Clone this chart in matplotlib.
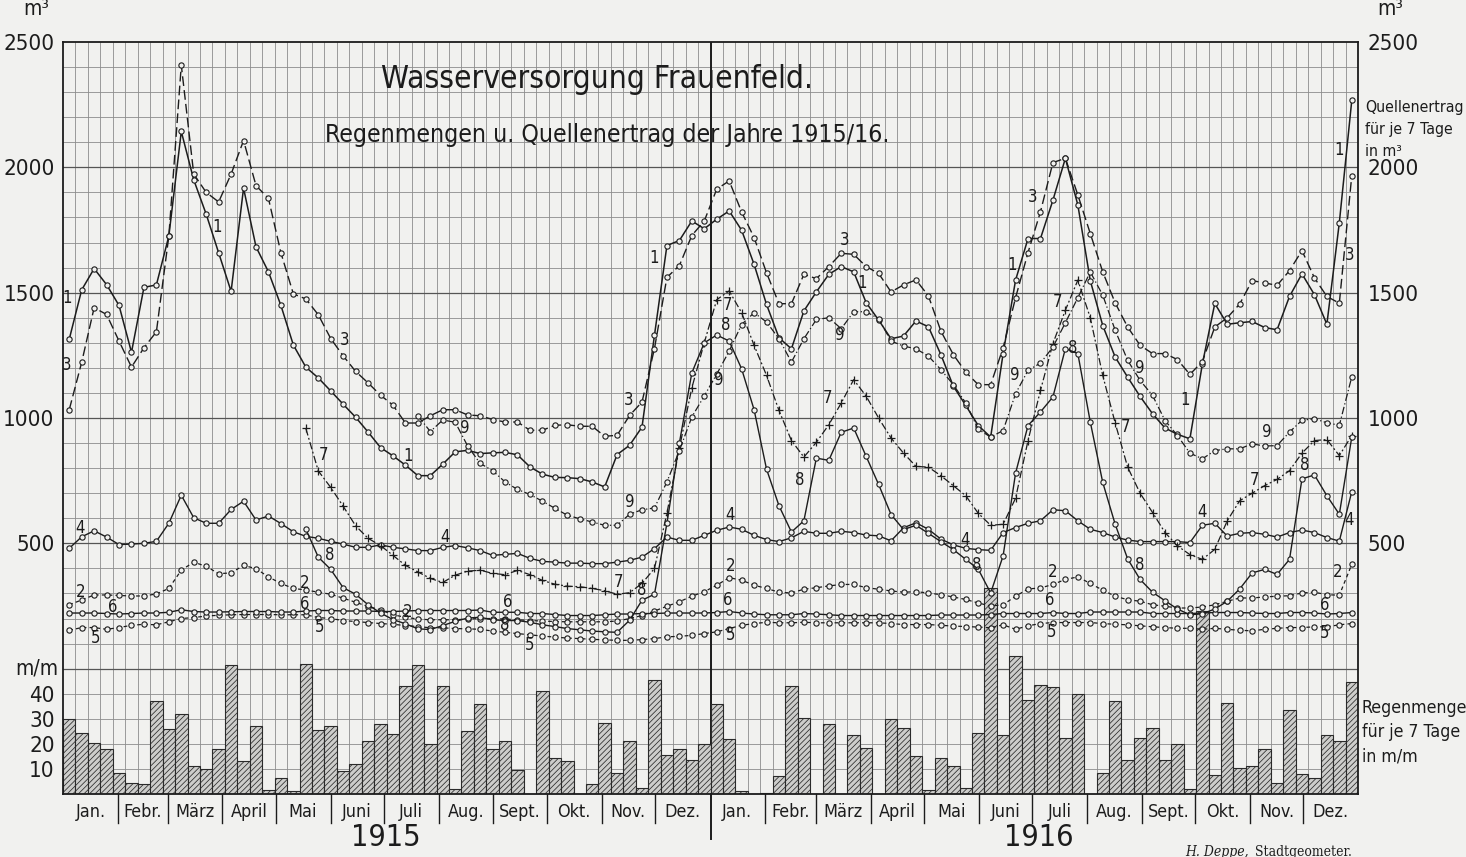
import numpy as np
import matplotlib.pyplot as plt
from matplotlib import font_manager
from matplotlib.transforms import blended_transform_factory

nan = np.nan

# --- data: weekly values 1915/16 (104 weeks) -------------------------------
# Quellenertrag in m3 per 7 days, one list per spring (numbered as in the chart)
q1 = [1314, 1511, 1596, 1532, 1449, 1262, 1521, 1531, 1726, 2143,
      1950, 1813, 1659, 1505, 1917, 1683, 1583, 1449, 1291, 1203,
      1160, 1108, 1055, 1003, 944, 882, 849, 812, 770, 770,
      816, 865, 871, 858, 861, 863, 853, 805, 776, 763,
      762, 758, 745, 725, 854, 891, 964, 1330, 1688, 1708,
      1786, 1755, 1793, 1826, 1749, 1613, 1453, 1320, 1276, 1427,
      1503, 1573, 1604, 1583, 1460, 1391, 1316, 1327, 1387, 1364,
      1253, 1127, 1050, 970, 924, 1257, 1550, 1716, 1716, 1869,
      2036, 1850, 1548, 1369, 1243, 1163, 1086, 1017, 960, 935,
      917, 1215, 1457, 1374, 1380, 1385, 1361, 1352, 1485, 1575,
      1492, 1374, 1779, 2267]
q2 = [255, 274, 294, 294, 292, 290, 290, 298, 320, 393,
      425, 408, 379, 382, 412, 399, 366, 340, 320, 314,
      305, 297, 281, 265, 248, 235, 215, 205, 198, 195,
      195, 195, 198, 200, 200, 198, 195, 192, 190, 188,
      187, 187, 187, 187, 190, 200, 212, 230, 249, 267,
      289, 307, 333, 363, 353, 333, 320, 305, 302, 317,
      323, 330, 336, 336, 323, 317, 310, 305, 307, 302,
      295, 286, 276, 262, 250, 255, 289, 318, 322, 336,
      356, 366, 340, 313, 289, 275, 269, 255, 249, 242,
      242, 246, 255, 269, 282, 282, 286, 289, 291, 302,
      305, 295, 293, 416]
q3 = [1033, 1222, 1440, 1413, 1307, 1203, 1280, 1344, 1726, 2408,
      1973, 1900, 1862, 1973, 2107, 1927, 1876, 1659, 1495, 1475,
      1412, 1317, 1248, 1186, 1140, 1091, 1051, 980, 980, 1009,
      1033, 1033, 1012, 1009, 994, 984, 984, 951, 951, 971,
      973, 967, 967, 927, 931, 1010, 1064, 1277, 1561, 1608,
      1728, 1786, 1913, 1946, 1822, 1720, 1579, 1456, 1456, 1573,
      1556, 1604, 1657, 1653, 1604, 1577, 1503, 1531, 1551, 1487,
      1347, 1253, 1183, 1133, 1133, 1280, 1480, 1660, 1823, 2019,
      2036, 1890, 1736, 1583, 1459, 1363, 1290, 1257, 1257, 1233,
      1174, 1225, 1363, 1400, 1455, 1548, 1539, 1529, 1588, 1668,
      1559, 1485, 1458, 1967]
q4 = [480, 526, 550, 525, 495, 497, 500, 508, 580, 692,
      602, 580, 580, 635, 668, 593, 609, 579, 546, 528,
      520, 508, 497, 484, 484, 494, 484, 478, 471, 471,
      484, 491, 482, 471, 452, 456, 460, 440, 428, 425,
      421, 421, 419, 419, 425, 432, 445, 479, 525, 512,
      512, 532, 552, 565, 556, 532, 515, 507, 522, 548,
      540, 540, 548, 543, 533, 530, 510, 562, 582, 556,
      517, 494, 480, 475, 472, 543, 563, 580, 590, 634,
      630, 590, 556, 543, 525, 513, 507, 507, 507, 507,
      503, 572, 580, 529, 540, 543, 536, 525, 543, 553,
      543, 523, 509, 706]
q5 = [153, 164, 164, 157, 164, 173, 177, 175, 187, 200,
      204, 210, 213, 215, 216, 216, 216, 215, 215, 215,
      204, 200, 192, 188, 184, 180, 177, 172, 168, 163,
      163, 160, 159, 157, 150, 145, 140, 135, 130, 126,
      122, 120, 117, 115, 113, 113, 116, 120, 127, 129,
      133, 140, 147, 160, 173, 180, 185, 183, 183, 185,
      183, 183, 183, 183, 183, 183, 180, 176, 176, 176,
      173, 170, 168, 166, 163, 175, 157, 171, 180, 184,
      184, 184, 184, 180, 177, 175, 171, 167, 164, 161,
      161, 157, 161, 157, 153, 151, 157, 161, 164, 164,
      167, 167, 175, 180]
q6 = [222, 222, 222, 220, 218, 220, 222, 222, 225, 235,
      228, 226, 226, 227, 228, 228, 228, 226, 226, 230,
      232, 232, 230, 230, 230, 228, 228, 230, 232, 232,
      232, 232, 232, 234, 225, 225, 225, 220, 220, 216,
      212, 212, 212, 215, 218, 218, 220, 220, 222, 222,
      222, 222, 224, 228, 222, 218, 215, 215, 215, 220,
      218, 215, 212, 212, 212, 212, 212, 212, 212, 212,
      214, 214, 214, 214, 216, 220, 220, 220, 220, 224,
      220, 220, 226, 226, 226, 226, 226, 220, 220, 220,
      220, 222, 224, 224, 224, 222, 220, 220, 224, 224,
      222, 218, 220, 224]
q7 = [nan] * 19 + [
      959, 789, 723, 648, 570, 520, 491, 452, 412, 386,
      360, 344, 373, 389, 393, 380, 375, 392, 375, 352,
      337, 329, 327, 320, 311, 297, 303, 340, 400, 620,
      880, 1120, 1300, 1472, 1507, 1420, 1290, 1170, 1030, 910,
      844, 903, 973, 1060, 1153, 1087, 1000, 920, 860, 807,
      804, 770, 730, 690, 620, 572, 576, 680, 910, 1110,
      1297, 1430, 1550, 1400, 1170, 980, 804, 700, 623, 543,
      490, 455, 436, 476, 590, 670, 700, 730, 755, 790,
      860, 910, 914, 850, 930]
q8 = [nan] * 19 + [
      557, 445, 396, 323, 297, 255, 222, 196, 179, 159,
      156, 172, 189, 202, 205, 195, 192, 192, 185, 175,
      168, 160, 155, 150, 147, 145, 193, 273, 297, 580,
      900, 1180, 1300, 1331, 1307, 1196, 1033, 796, 650, 545,
      590, 840, 831, 943, 960, 847, 735, 615, 555, 572,
      540, 507, 475, 436, 397, 302, 450, 780, 970, 1024,
      1084, 1277, 1257, 984, 743, 576, 438, 356, 305, 271,
      238, 215, 219, 238, 269, 318, 382, 396, 376, 436,
      757, 773, 690, 616, 924]
q9 = [nan] * 28 + [
      1009, 946, 992, 983, 888, 819, 790, 745, 715, 695,
      668, 640, 612, 598, 585, 572, 572, 616, 634, 641,
      745, 870, 1004, 1088, 1175, 1267, 1373, 1420, 1383, 1316,
      1223, 1316, 1393, 1400, 1356, 1424, 1424, 1396, 1307, 1287,
      1276, 1247, 1193, 1133, 1060, 955, 924, 950, 1097, 1190,
      1219, 1283, 1380, 1480, 1583, 1490, 1350, 1230, 1150, 1090,
      990, 930, 860, 837, 870, 877, 877, 897, 888, 890,
      944, 991, 997, 981, 971, 1164]

# Regenmenge in mm per 7 days
rain = [30, 24.5, 20.5, 18, 8.5, 4.5, 4, 37, 26, 32,
        11, 10, 18, 51.5, 13, 27, 1.5, 6.5, 1, 52,
        25.5, 27, 9, 12, 21, 28, 24, 43, 51.5, 20,
        43, 2, 25, 36, 18, 21, 9.5, 0, 41, 14.5,
        13, 0, 4, 28.5, 8.5, 21, 2.5, 45.5, 15.5, 18,
        13.5, 20, 36, 22, 1, 0, 0.3, 7, 43, 30.5,
        0, 28, 0, 23.5, 18.5, 0, 30, 26.5, 15, 1.5,
        14.5, 11, 2.5, 24.5, 82, 23.5, 55, 37.5, 43.5, 42.5,
        22.5, 40, 0, 8.5, 37, 13.5, 22.5, 26.5, 13.5, 20,
        2, 73, 7.5, 36.5, 10.5, 11, 18, 4.5, 33.5, 8,
        6.5, 23.5, 21, 44.5]

months = ["Jan.", "Febr.", "März", "April", "Mai", "Juni",
          "Juli", "Aug.", "Sept.", "Okt.", "Nov.", "Dez."]
month_start_days = [0, 31, 59, 90, 120, 151, 181, 212, 243, 273, 304, 334,
                    365, 396, 425, 456, 486, 517, 547, 578, 609, 639, 670, 700, 731]
years = ["1915", "1916"]

series = {"1": q1, "2": q2, "3": q3, "4": q4, "5": q5,
          "6": q6, "7": q7, "8": q8, "9": q9}

# --- styling ----------------------------------------------------------------
PAPER = "#f1f1ef"
INK = "#1c1c1c"
GRID = "#8c8c8c"

# the original lettering is narrow; take the narrowest face that is installed
_fonts = font_manager.fontManager.ttflist
if any(f.name == "Liberation Sans Narrow" for f in _fonts):
    base_family, base_stretch, wide = "Liberation Sans Narrow", "normal", 1.0
elif any(f.name == "DejaVu Sans" and "condensed" in str(f.stretch) for f in _fonts):
    base_family, base_stretch, wide = "DejaVu Sans", "condensed", 1.1
else:
    base_family, base_stretch, wide = "Roboto", "normal", 1.15
plt.rcParams["font.family"] = [base_family, "DejaVu Sans"]
plt.rcParams["font.stretch"] = base_stretch
plt.rcParams["hatch.linewidth"] = 0.55

styles = {
    "1": dict(ls="-", lw=1.1),
    "2": dict(ls=(0, (3, 2.5)), lw=0.9),
    "3": dict(ls=(0, (7, 3)), lw=1.0),
    "4": dict(ls="-", lw=1.0),
    "5": dict(ls=(0, (3, 2.5)), lw=0.9),
    "6": dict(ls="-", lw=1.0),
    "7": dict(ls=(0, (6, 2, 1.5, 2)), lw=0.9),
    "8": dict(ls="-", lw=1.0),
    "9": dict(ls=(0, (6, 2, 1, 2)), lw=0.9),
}

# where the little series numbers sit (week, m3)
series_labels = {
    "1": [(0.3, 1480), (12.4, 1760), (27.7, 850), (47.5, 1640), (64.2, 1540),
          (76.2, 1610), (90.1, 1070), (102.5, 2070)],
    "3": [(0.3, 1210), (22.6, 1310), (45.4, 1070), (62.8, 1710), (77.9, 1880),
          (103.3, 1650)],
    "4": [(1.4, 560), (30.7, 525), (53.6, 615), (72.4, 515), (91.5, 625), (103.3, 595)],
    "2": [(1.4, 305), (19.4, 340), (27.7, 228), (53.6, 410), (79.5, 385), (102.4, 385)],
    "6": [(4.0, 245), (19.4, 258), (35.7, 266), (53.4, 274), (79.2, 274), (101.3, 254)],
    "5": [(2.6, 122), (20.6, 166), (37.5, 94), (53.6, 134), (79.4, 146), (101.3, 142)],
    "7": [(20.9, 852), (44.6, 345), (53.4, 1451), (61.4, 1080), (79.9, 1463),
          (85.3, 964), (95.7, 752)],
    "8": [(21.4, 453), (35.5, 174), (46.5, 314), (53.2, 1371), (59.2, 753),
          (73.4, 413), (81.1, 1279), (86.5, 413), (99.7, 812)],
    "9": [(32.3, 960), (45.5, 665), (52.7, 1151), (62.4, 1331), (76.4, 1171),
          (86.5, 1199), (96.7, 944)],
}

# --- figure -----------------------------------------------------------------
fig = plt.figure(figsize=(14.66, 8.57), dpi=100)
fig.patch.set_facecolor(PAPER)
ax = fig.add_axes([63 / 1466, 1 - 794 / 857, (1358 - 63) / 1466, (794 - 42) / 857])
ax.set_facecolor(PAPER)
ax.set_xlim(0, 104)
ax.set_ylim(-500, 2500)

# weekly grid and 100 m3 / 10 mm lines
for w in range(1, 104):
    ax.axvline(w, color=GRID, lw=0.6, zorder=1)
for v in range(-400, 2500, 100):
    strong = v % 500 == 0
    ax.axhline(v, color="#555555" if strong else GRID, lw=0.9 if strong else 0.6, zorder=1)
ax.axvline(52, color=INK, lw=1.4, zorder=1)

# rain bars, 0 mm sits on the -500 line, 10 mm = 100 units
weeks = np.arange(len(rain))
ax.bar(weeks, np.array(rain) * 10, bottom=-500, width=1, align="edge",
       facecolor="#cdcdcb", edgecolor="#2a2a2a", hatch="//////", lw=0.8, zorder=2)

# spring yields
x_pts = weeks + 0.5
for name, vals in series.items():
    st = styles[name]
    if name == "7":
        ax.plot(x_pts, vals, color=INK, marker="+", ms=6, mew=0.9, zorder=4, **st)
    else:
        ax.plot(x_pts, vals, color=INK, marker="o", ms=3.8, mfc=PAPER, mec=INK,
                mew=0.8, zorder=4, **st)
    for (lx, ly) in series_labels[name]:
        ax.text(lx, ly, name, fontsize=12, color=INK, ha="center", va="center", zorder=5)

# titles
ax.text(42.9, 2350, "Wasserversorgung Frauenfeld.", fontsize=25 / wide, color=INK,
        ha="center", va="center", zorder=5)
ax.text(43.7, 2130, "Regenmengen u. Quellenertrag der Jahre 1915/16.", fontsize=19.6 / wide,
        color=INK, ha="center", va="center", zorder=5)

# axes frame and tick labels
for sp in ax.spines.values():
    sp.set_color(INK)
    sp.set_linewidth(1.3)
ax.set_xticks([])
left_ticks = [2500, 2000, 1500, 1000, 500, -100, -200, -300, -400]
left_labels = ["2500", "2000", "1500", "1000", "500", "40", "30", "20", "10"]
ax.set_yticks(left_ticks)
ax.set_yticklabels(left_labels, fontsize=16, color=INK)
ax.tick_params(axis="y", length=0, pad=6)

ax2 = ax.twinx()
ax2.set_ylim(ax.get_ylim())
ax2.set_yticks([2500, 2000, 1500, 1000, 500])
ax2.set_yticklabels(["2500", "2000", "1500", "1000", "500"], fontsize=16, color=INK)
ax2.tick_params(axis="y", length=0, pad=7)
for sp in ax2.spines.values():
    sp.set_visible(False)

ax.text(-0.021, 1.03, "m³", transform=ax.transAxes, fontsize=15, color=INK,
        ha="center", va="bottom")
ax.text(1.025, 1.03, "m³", transform=ax.transAxes, fontsize=15, color=INK,
        ha="center", va="bottom")
ax.text(-0.02, 0, "m/m", fontsize=15, color=INK, ha="center", va="center",
        transform=blended_transform_factory(ax.transAxes, ax.transData))
ax.text(1.0055, 2270, "Quellenertrag\nfür je 7 Tage\nin m³", fontsize=12.5 / wide,
        color=INK, ha="left", va="top", linespacing=1.6,
        transform=blended_transform_factory(ax.transAxes, ax.transData))
ax.text(1.003, -120, "Regenmenge\nfür je 7 Tage\nin m/m", fontsize=14 / wide,
        color=INK, ha="left", va="top", linespacing=1.45,
        transform=blended_transform_factory(ax.transAxes, ax.transData))

# month strip below the plot
trans = blended_transform_factory(ax.transData, ax.transAxes)
scale = 104 / 731
for k, d in enumerate(month_start_days):
    if k in (0, 12, len(month_start_days) - 1):
        continue
    xw = d * scale
    ax.plot([xw, xw], [0, -0.038], color=INK, lw=1.0, transform=trans, clip_on=False)
ax.plot([52, 52], [0, -0.06], color=INK, lw=1.4, transform=trans, clip_on=False)
for k in range(24):
    x0 = month_start_days[k] * scale
    x1 = month_start_days[k + 1] * scale
    ax.text((x0 + x1) / 2, -0.024, months[k % 12], fontsize=13.5 / wide ** 0.5, color=INK,
            ha="center", va="center", transform=trans)
ax.text(25.9, -0.058, years[0], fontsize=22, color=INK, ha="center", va="center",
        transform=trans)
ax.text(78.4, -0.058, years[1], fontsize=22, color=INK, ha="center", va="center",
        transform=trans)

fig.text(1185 / 1466, 1 - 852 / 857, "H. Deppe,", fontsize=10, style="italic",
         family="DejaVu Serif", color=INK, ha="left", va="center")
fig.text(1255 / 1466, 1 - 852 / 857, "Stadtgeometer.", fontsize=10,
         family="DejaVu Serif", color=INK, ha="left", va="center")

fig.savefig("out.png", dpi=100, facecolor=PAPER)
